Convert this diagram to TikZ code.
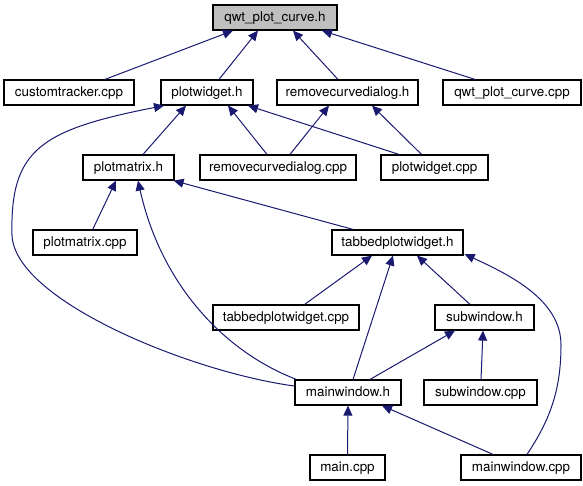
\documentclass[tikz,border=0pt]{standalone}
\usepackage{fontspec}
\setmainfont{TeX Gyre Heros}
\usetikzlibrary{arrows.meta}
\definecolor{edgecol}{HTML}{191970}
\definecolor{rootfill}{HTML}{BFBFBF}
\begin{document}
\begin{tikzpicture}[x=1pt,y=-1pt,
  box/.style={draw=black, line width=1.2pt, minimum height=25pt, inner sep=0pt,
    font=\fontsize{13.4}{16}\selectfont, text height=9.8pt, text depth=2.8pt},
  edge/.style={draw=edgecol, line width=1pt, -{Triangle[length=10pt,width=9pt]}}]
\path[use as bounding box] (0,0) rectangle (583,485);
% nodes
\node[box, fill=rootfill, minimum width=124pt] (qwt) at (275,17.5) {qwt\_plot\_curve.h};
\node[box, minimum width=130pt] (ct)   at (69,92.5)    {customtracker.cpp};
\node[box, minimum width=92pt]  (pwh)  at (207,92.5)   {plotwidget.h};
\node[box, minimum width=141pt] (rcdh) at (347.5,92.5) {removecurvedialog.h};
\node[box, minimum width=138pt] (qpc)  at (512,92.5)   {qwt\_plot\_curve.cpp};
\node[box, minimum width=91pt]  (pmh)  at (128.5,167.5){plotmatrix.h};
\node[box, minimum width=156pt] (rcdc) at (278,167.5)  {removecurvedialog.cpp};
\node[box, minimum width=107pt] (pwc)  at (434.5,167.5){plotwidget.cpp};
\node[box, minimum width=104pt] (pmc)  at (85,242.5)   {plotmatrix.cpp};
\node[box, minimum width=131pt] (tpwh) at (397.5,242.5){tabbedplotwidget.h};
\node[box, minimum width=146pt] (tpwc) at (286,317.5)  {tabbedplotwidget.cpp};
\node[box, minimum width=99pt]  (swh)  at (484.5,317.5){subwindow.h};
\node[box, minimum width=106pt] (mwh)  at (348,392.5)  {mainwindow.h};
\node[box, minimum width=113pt] (swc)  at (480.5,392.5){subwindow.cpp};
\node[box, minimum width=75pt]  (mainc) at (347.5,467.5){main.cpp};
\node[box, minimum width=120pt] (mwc)  at (521,467.5)  {mainwindow.cpp};
% edges
\draw[edge] ([xshift=36pt]ct.north)   -- ([xshift=-42pt]qwt.south);
\draw[edge] ([xshift=12pt]pwh.north)  -- ([xshift=-17pt]qwt.south);
\draw[edge] ([xshift=-9.5pt]rcdh.north) -- ([xshift=18pt]qwt.south);
\draw[edge] ([xshift=-37pt]qpc.north) -- ([xshift=47pt]qwt.south);
\draw[edge] ([xshift=14.5pt]pmh.north) -- ([xshift=-21pt]pwh.south);
\draw[edge] ([xshift=-11pt]rcdc.north) -- ([xshift=21pt]pwh.south);
\draw[edge] ([xshift=-35.5pt]pwc.north) -- ([xshift=41pt]pwh.south);
\coordinate (k8) at (12,235);
\draw[edge] ([yshift=6.5pt]mwh.west) .. controls (190,372) and (14,300) .. (k8)
  .. controls (10,150) and (40,130) .. ([xshift=-43pt]pwh.south);
\draw[edge] ([xshift=12pt]rcdc.north) -- ([xshift=-18.5pt]rcdh.south);
\draw[edge] ([xshift=-13pt]pwc.north) -- ([xshift=24.5pt]rcdh.south);
\draw[edge] ([xshift=7.7pt]pmc.north) -- ([xshift=-12.5pt]pmh.south);
\draw[edge] ([xshift=2pt]mwh.north west) .. controls (220,350) and (160,280) .. ([xshift=9.5pt]pmh.south);
\draw[edge] ([xshift=-44.5pt]tpwh.north) -- ([xshift=-1pt]pmh.south east);
\draw[edge] ([xshift=18.6pt]tpwc.north) -- ([xshift=-25.5pt]tpwh.south);
\draw[edge] ([xshift=5pt]mwh.north) -- ([xshift=-4.5pt]tpwh.south);
\draw[edge] ([xshift=-14.5pt]swh.north) -- ([xshift=19.5pt]tpwh.south);
\coordinate (k17) at (561,345);
\draw[edge] ([xshift=6pt]mwc.north) .. controls (550,420) and (561,390) .. (k17)
  .. controls (561,300) and (510,275) .. ([xshift=1pt,yshift=1.5pt]tpwh.south east);
\draw[edge] ([xshift=22pt]mwh.north) -- ([xshift=-29.5pt]swh.south);
\draw[edge] ([xshift=0.5pt]swc.north) -- ([xshift=-1.5pt]swh.south);
\draw[edge] (mainc.north) -- (mwh.south);
\draw[edge] ([xshift=-28pt]mwc.north) -- ([xshift=34pt]mwh.south);
\end{tikzpicture}
\end{document}
